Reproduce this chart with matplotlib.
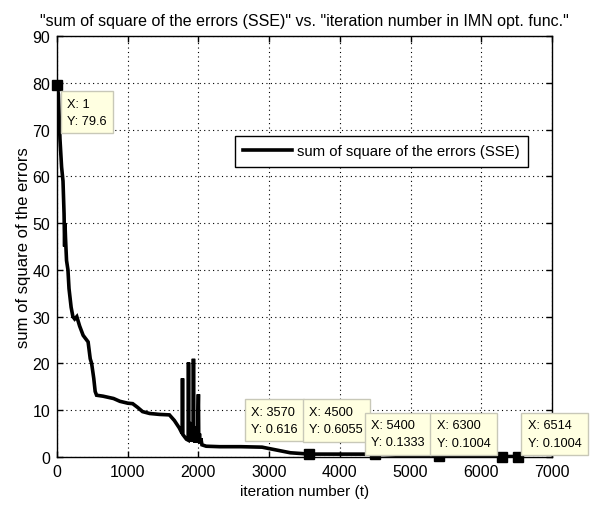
import matplotlib
matplotlib.use("Agg")
import matplotlib.pyplot as plt
import numpy as np

plt.rcParams["font.family"] = ["Liberation Sans", "DejaVu Sans"]

# SSE curve (iteration, error)
iters = [1, 20, 42, 65, 85, 100, 108, 113, 120, 135, 155, 170, 200, 225, 250, 280,
         300, 320, 370, 420, 440, 470, 490, 520, 540, 560, 650, 800, 890, 1000,
         1070, 1140, 1210, 1310, 1450, 1590, 1660, 1730, 1770, 1775, 1780, 1800,
         1830, 1855, 1860, 1865, 1872, 1880, 1888, 1895, 1902, 1910, 1918, 1925,
         1930, 1935, 1942, 1950, 1958, 1966, 1975, 1983, 1990, 2000, 2005, 2015,
         2025, 2035, 2050, 2110, 2300, 2600, 2900, 3000, 3100, 3300, 3570, 4000,
         4500, 4700, 4900, 5200, 5400, 5800, 6300, 6514]
sse = [79.6, 77.5, 68.0, 62.0, 59.0, 52.0, 45.0, 50.0, 47.0, 42.0, 40.0, 36.0,
       32.0, 30.0, 29.5, 30.0, 29.0, 28.0, 26.0, 25.0, 24.6, 21.0, 20.0, 16.8,
       14.0, 13.2, 13.0, 12.5, 11.9, 11.5, 11.4, 10.6, 9.7, 9.3, 9.1, 9.0, 7.8,
       6.2, 5.0, 16.8, 4.8, 4.4, 3.8, 3.6, 20.2, 3.6, 7.5, 3.4, 7.2, 3.3, 7.0,
       3.3, 6.8, 3.2, 21.0, 3.2, 6.5, 3.1, 6.2, 3.1, 6.0, 3.0, 5.8, 13.4, 3.0,
       5.0, 2.9, 4.0, 2.6, 2.3, 2.2, 2.2, 2.1, 1.8, 1.5, 0.9, 0.616, 0.61,
       0.6055, 0.45, 0.3, 0.14, 0.1333, 0.11, 0.1004, 0.1004]

# data tips
tip_x = [1, 3570, 4500, 5400, 6300, 6514]
tip_y = [79.6, 0.616, 0.6055, 0.1333, 0.1004, 0.1004]
tip_lbl_x = ["1", "3570", "4500", "5400", "6300", "6514"]
tip_lbl_y = ["79.6", "0.616", "0.6055", "0.1333", "0.1004", "0.1004"]

fig = plt.figure(figsize=(5.93, 5.06), dpi=100)
ax = fig.add_axes([0.0961, 0.0949, 0.8347, 0.832])

ax.plot(iters, sse, color="black", linewidth=2.6, solid_joinstyle="miter",
        label="sum of square of the errors (SSE)")

ax.set_xlim(0, 7000)
ax.set_ylim(0, 90)
ax.set_xticks(np.arange(0, 7001, 1000))
ax.set_yticks(np.arange(0, 91, 10))
ax.grid(True, linestyle=(0, (1, 3)), color="black", linewidth=0.8)
ax.tick_params(direction="in", length=4.5, width=1, top=True, right=True,
               labelsize=11.5, pad=5)
for s in ax.spines.values():
    s.set_linewidth(1.0)

ax.set_title('"sum of square of the errors (SSE)" vs. "iteration number in IMN opt. func."',
             fontsize=11.5, pad=8)
ax.set_xlabel("iteration number (t)", fontsize=11, labelpad=4)
ax.set_ylabel("sum of square of the errors", fontsize=12, labelpad=1)

leg = ax.legend(loc="upper left", bbox_to_anchor=(0.36, 0.762), fontsize=10.7,
                frameon=True, fancybox=False, edgecolor="black", framealpha=1,
                handlelength=3.3, borderpad=0.55, handletextpad=0.3,
                borderaxespad=0)
leg.get_frame().set_linewidth(1.0)

# box offsets (pixels) and alignment for each tip
offsets = [(10, -13), (-12, 19), (-12, 19), (-14, 8), (-12, 8), (10, 8)]
aligns = [("left", "top"), ("right", "bottom"), ("right", "bottom"),
          ("right", "bottom"), ("right", "bottom"), ("left", "bottom")]
for i in range(len(tip_x)):
    ax.plot(tip_x[i], tip_y[i], marker="s", color="black", markersize=6.5,
            clip_on=False, zorder=5)
    ax.annotate("X: " + tip_lbl_x[i] + "\nY: " + tip_lbl_y[i],
                xy=(tip_x[i], tip_y[i]), xytext=offsets[i],
                textcoords="offset pixels", ha=aligns[i][0], va=aligns[i][1],
                multialignment="left", fontsize=9.2, linespacing=1.6,
                annotation_clip=False, zorder=6,
                bbox=dict(boxstyle="square,pad=0.5", facecolor="#ffffe1",
                          edgecolor="#c8c8b8", linewidth=1.0))

fig.savefig("out.png", dpi=100)
